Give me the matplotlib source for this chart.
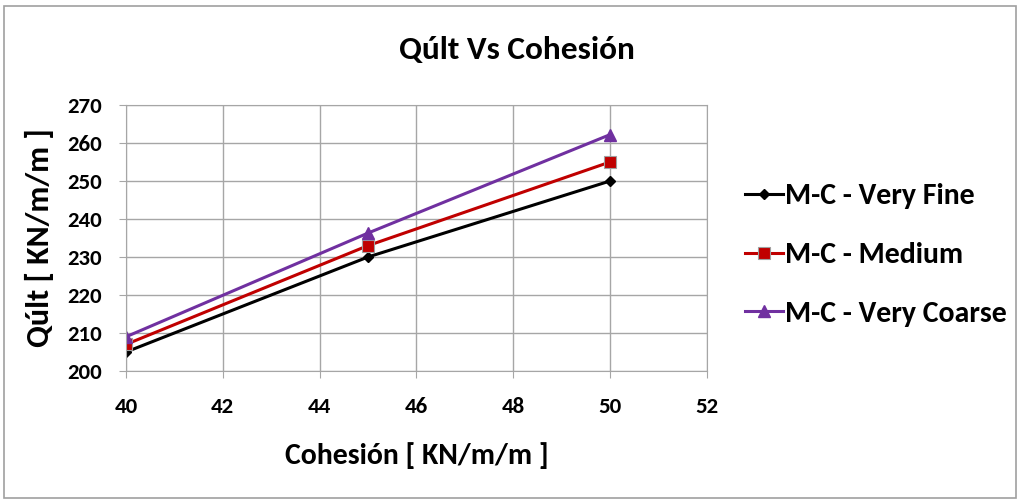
import matplotlib.pyplot as plt
from matplotlib.patches import Rectangle

# datos
cohesion = [40, 45, 50]
very_fine = [205, 230, 250]
medium = [207, 233, 255]
very_coarse = [209, 236.3, 262.2]
labels = ["M-C - Very Fine", "M-C - Medium", "M-C - Very Coarse"]

plt.rcParams['font.family'] = ['Carlito', 'DejaVu Sans']
plt.rcParams['font.weight'] = 'bold'

fig = plt.figure(figsize=(10.2, 5), dpi=100)
ax = fig.add_axes([0.1235, 0.258, 0.5695, 0.532])

ax.plot(cohesion, very_fine, color='black', lw=2.2, marker='D', ms=5,
        label=labels[0])
ax.plot(cohesion, medium, color='#C00000', lw=2.2, marker='s', ms=8,
        mec='#A0A0A0', mew=0.8, label=labels[1])
ax.plot(cohesion, very_coarse, color='#7030A0', lw=2.2, marker='^', ms=8,
        label=labels[2])

ax.set_xlim(40, 52)
ax.set_ylim(200, 270)
ax.set_xticks(range(40, 53, 2))
ax.set_yticks(range(200, 271, 10))
ax.grid(True, color='#A6A6A6', lw=1)
ax.set_axisbelow(True)
for s in ax.spines.values():
    s.set_color('#A6A6A6')
ax.tick_params(colors='#A6A6A6', labelcolor='black', length=5, labelsize=16.5)
ax.tick_params(axis='x', pad=14)
ax.tick_params(axis='y', pad=12)
for t in ax.get_xticklabels() + ax.get_yticklabels():
    t.set_fontweight('bold')

ax.set_xlabel("Cohesión [ KN/m/m ]", fontsize=21.5, fontweight='bold', labelpad=18)
ax.set_ylabel("Qúlt [ KN/m/m ]", fontsize=23, fontweight='bold', labelpad=10)
fig.text(0.507, 0.9, "Qúlt Vs Cohesión", ha='center', va='center',
         fontsize=24, fontweight='bold')

leg = ax.legend(loc='center left', bbox_to_anchor=(1.065, 0.436), frameon=False,
                handlelength=1.3, handletextpad=0.05, borderpad=0,
                borderaxespad=0, labelspacing=1.1,
                prop={'weight': 'bold', 'size': 21.5})

fig.patches.append(Rectangle((0.004, 0.004), 0.992, 0.985,
                             transform=fig.transFigure, fill=False,
                             ec='#A0A0A0', lw=1.2))

fig.savefig("out.png", dpi=100)
